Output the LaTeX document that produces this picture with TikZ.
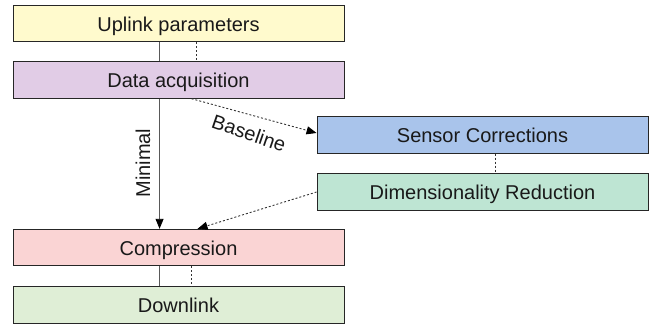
\documentclass[tikz,border=0pt]{standalone}
\usepackage{fontspec}
\setmainfont{Liberation Sans}
\usetikzlibrary{arrows.meta}
\definecolor{cUp}{HTML}{FFFACD}
\definecolor{cData}{HTML}{E1CCE6}
\definecolor{cSens}{HTML}{A9C4EB}
\definecolor{cDim}{HTML}{BEE5D3}
\definecolor{cComp}{HTML}{FAD4D4}
\definecolor{cDown}{HTML}{DFEED6}
\tikzset{
  box/.style={draw=black!85, line width=0.9pt, rectangle, minimum width=331pt, minimum height=36.5pt, inner sep=0pt, text height=15pt, text depth=0pt, font=\fontsize{20}{24}\selectfont, text=black!90},
  solidline/.style={draw=black!65, line width=0.9pt},
  dashline/.style={draw=black!80, line width=0.9pt, dash pattern=on 2pt off 2pt},
  tip/.style={-{Triangle[length=10pt,width=8pt,color=black]}},
  lbl/.style={font=\fontsize{20}{24}\selectfont, text=black!90, inner sep=0pt}
}
\begin{document}
\begin{tikzpicture}[x=1pt,y=-1pt]
\useasboundingbox (0,0) rectangle (650,325);
\node[box, fill=cUp] (up) at (178.5,23.5) {Uplink parameters};
\node[box, fill=cData] (data) at (178.5,80) {Data acquisition};
\node[box, fill=cSens] (sens) at (482.5,135) {Sensor Corrections};
\node[box, fill=cDim] (dim) at (482.5,192) {Dimensionality Reduction};
\node[box, fill=cComp] (comp) at (178.5,247.5) {Compression};
\node[box, fill=cDown] (down) at (178.5,305) {Downlink};

\draw[solidline] ([xshift=147pt]up.south west) -- ([xshift=147pt]data.north west);
\draw[dashline] ([xshift=184pt]up.south west) -- ([xshift=184pt]data.north west);

\draw[solidline, tip] ([xshift=147pt]data.south west) -- ([xshift=147pt]comp.north west);
\node[lbl, rotate=90] (minl) at (143,163) {Minimal};
\draw[dashline, tip] ([xshift=179pt]data.south west) -- ([yshift=2pt]sens.west);
\node[lbl, rotate=-19] (bl) at (249,133) {Baseline};

\draw[dashline] ([xshift=179pt]sens.south west) -- ([xshift=179pt]dim.north west);
\draw[dashline, tip] (dim.west) -- ([xshift=185pt]comp.north west);

\draw[solidline] ([xshift=147pt]comp.south west) -- ([xshift=147pt]down.north west);
\draw[dashline] ([xshift=179pt]comp.south west) -- ([xshift=179pt]down.north west);
\end{tikzpicture}
\end{document}
